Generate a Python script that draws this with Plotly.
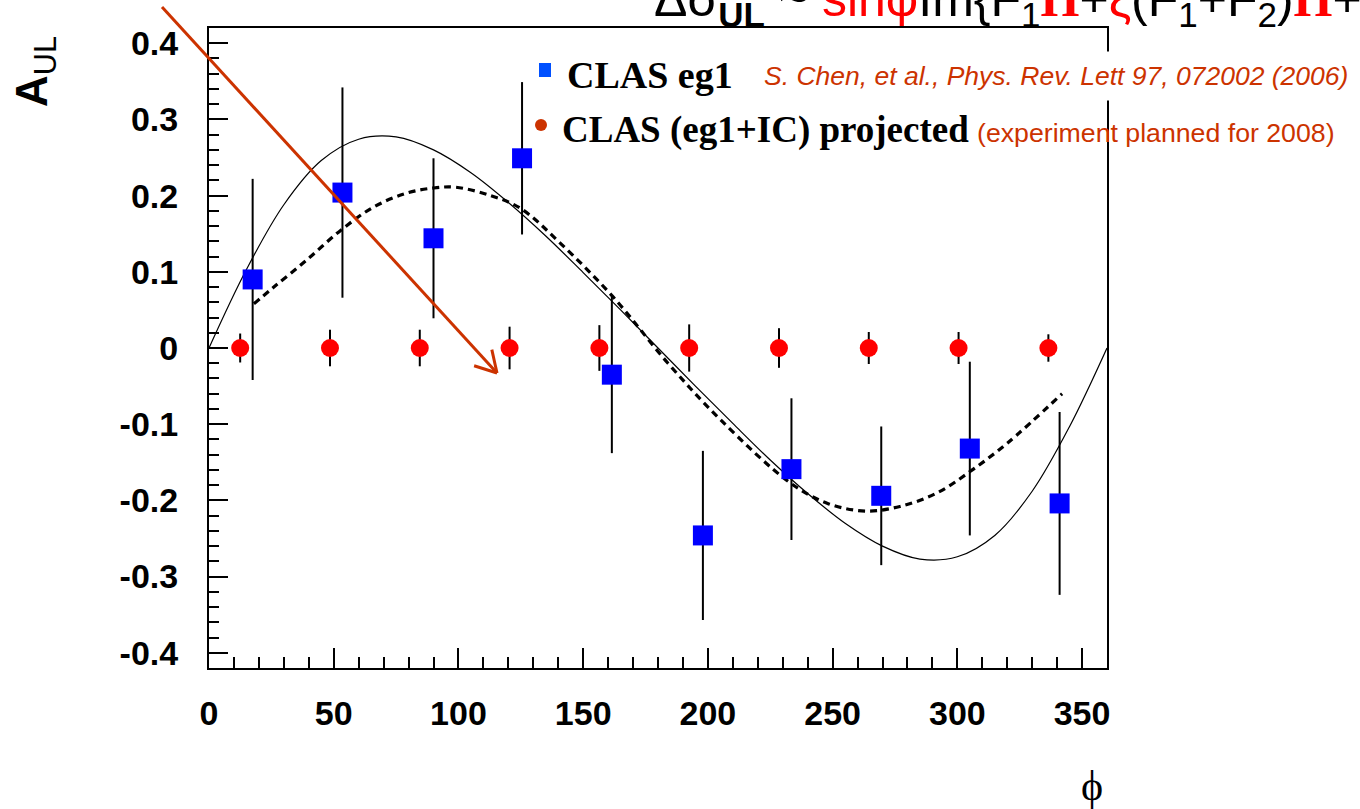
import math
import plotly.graph_objects as go

# CLAS eg1 measured target-spin asymmetry A_UL vs phi
phi_eg1 = [17.5, 53.5, 90.0, 125.5, 161.5, 198.0, 233.5, 269.5, 305.0, 341.0]
a_eg1 = [0.090, 0.204, 0.144, 0.249, -0.035, -0.246, -0.159, -0.194, -0.132, -0.204]
err_eg1 = [0.132, 0.138, 0.105, 0.100, 0.103, 0.111, 0.093, 0.091, 0.114, 0.120]

# projected eg1+IC points (all at zero with expected errors)
phi_proj = [12.5, 48.5, 84.5, 120.5, 156.5, 192.5, 228.5, 264.5, 300.5, 336.5]
a_proj = [0.0, 0.0, 0.0, 0.0, 0.0, 0.0, 0.0, 0.0, 0.0, 0.0]
err_proj = [0.019, 0.024, 0.024, 0.028, 0.030, 0.031, 0.026, 0.021, 0.021, 0.018]

# fit to the eg1 data (thin solid curve)
phi_fit = [0, 15, 30, 45, 60, 75, 90, 105, 120, 135, 150, 165, 180,
           195, 210, 225, 240, 255, 270, 285, 300, 315, 330, 345, 360]
a_fit = [0.000, 0.103, 0.188, 0.246, 0.274, 0.277, 0.260, 0.230, 0.191, 0.147, 0.099, 0.050, 0.000,
         -0.050, -0.099, -0.147, -0.191, -0.230, -0.260, -0.277, -0.274, -0.246, -0.188, -0.103, 0.000]

# model prediction (thick dashed curve)
phi_model = [18, 26, 39, 53, 66, 79, 90, 99, 113, 125, 141, 162, 184,
             205, 233, 248, 263, 277, 292, 306, 320, 342]
a_model = [0.058, 0.080, 0.115, 0.155, 0.185, 0.203, 0.210, 0.211, 0.200, 0.183, 0.137, 0.067, -0.020,
           -0.094, -0.177, -0.204, -0.214, -0.208, -0.190, -0.160, -0.125, -0.060]

x_ticks = [0, 50, 100, 150, 200, 250, 300, 350]
x_ticklabels = ["0", "50", "100", "150", "200", "250", "300", "350"]
y_ticks = [0.4, 0.3, 0.2, 0.1, 0.0, -0.1, -0.2, -0.3, -0.4]
y_ticklabels = ["0.4", "0.3", "0.2", "0.1", "0", "-0.1", "-0.2", "-0.3", "-0.4"]

W, H = 1360, 809
ML, MR, MT, MB = 209, 253, 28, 141
PW, PH = W - ML - MR, H - MT - MB

SANS = "Liberation Sans"
SERIF = "Liberation Serif"
ORANGE = "#CC3300"
RED = "#FF0000"


def px(xp):
    return (xp - ML) / PW


def py(yp):
    return (H - MB - yp) / PH


fig = go.Figure()

fig.add_trace(go.Scatter(
    x=phi_fit, y=a_fit, mode="lines",
    line=dict(color="black", width=1.2, shape="spline"),
    hoverinfo="skip"))

fig.add_trace(go.Scatter(
    x=phi_model, y=a_model, mode="lines",
    line=dict(color="black", width=3.2, dash="7px,5px", shape="spline"),
    hoverinfo="skip"))

fig.add_trace(go.Scatter(
    x=phi_proj, y=a_proj, mode="markers",
    marker=dict(symbol="circle", size=18, color=RED),
    error_y=dict(type="data", array=err_proj, color="black", thickness=2, width=0)))

fig.add_trace(go.Scatter(
    x=phi_eg1, y=a_eg1, mode="markers",
    marker=dict(symbol="square", size=20, color="#0000FF"),
    error_y=dict(type="data", array=err_eg1, color="black", thickness=2, width=0)))

tick_font = dict(family=SANS, size=34, color="black", weight="bold")

fig.update_xaxes(
    range=[0, 360], showgrid=False, zeroline=False,
    showline=True, mirror=True, linecolor="black", linewidth=2,
    ticks="inside", ticklen=20, tickwidth=2, tickcolor="black",
    tickvals=x_ticks, ticktext=x_ticklabels,
    tickfont=tick_font, ticklabelstandoff=14,
    minor=dict(dtick=10, tick0=0, ticks="inside", ticklen=11, tickwidth=2,
               tickcolor="black", showgrid=False))

fig.update_yaxes(
    range=[-0.42, 0.42], showgrid=False, zeroline=False,
    showline=True, mirror=True, linecolor="black", linewidth=2,
    ticks="inside", ticklen=19, tickwidth=2, tickcolor="black",
    tickvals=y_ticks, ticktext=y_ticklabels,
    tickfont=tick_font, ticklabelstandoff=22,
    minor=dict(dtick=0.02, tick0=0, ticks="inside", ticklen=10, tickwidth=2,
               tickcolor="black", showgrid=False))

annotations = []

# axis titles
annotations.append(dict(
    text="<b>A</b><sub>UL</sub>", x=px(35), y=py(72), xref="paper", yref="paper",
    xanchor="center", yanchor="middle", textangle=-90, showarrow=False,
    font=dict(family=SANS, size=44, color="black")))
annotations.append(dict(
    text="ϕ", x=px(1092), y=py(786), xref="paper", yref="paper",
    xanchor="center", yanchor="middle", showarrow=False,
    font=dict(family=SERIF, size=42, color="black")))

# legend entries
annotations.append(dict(
    text="<b>CLAS eg1</b>", x=px(565), y=py(75), xref="paper", yref="paper",
    xanchor="left", yanchor="middle", showarrow=False,
    font=dict(family=SERIF, size=38, color="black")))
annotations.append(dict(
    text="<i>S. Chen, et al., Phys. Rev. Lett 97, 072002 (2006)</i>",
    x=px(754), y=py(76), xref="paper", yref="paper",
    xanchor="left", yanchor="middle", showarrow=False, bgcolor="white", borderpad=9,
    font=dict(family=SANS, size=26.5, color=ORANGE)))
annotations.append(dict(
    text="<b>CLAS (eg1+IC) projected</b>", x=px(560), y=py(130), xref="paper", yref="paper",
    xanchor="left", yanchor="middle", showarrow=False,
    font=dict(family=SERIF, size=37, color="black")))
annotations.append(dict(
    text="(experiment planned for 2008)", x=px(975), y=py(133), xref="paper", yref="paper",
    xanchor="left", yanchor="middle", showarrow=False,
    font=dict(family=SANS, size=26.7, color=ORANGE)))

# formula running off the top edge
HCAL = f"<span style='color:{RED};font-family:{SERIF}'><b>H</b></span>"
formula = (
    "Δσ<sub><b>UL</b></sub> ~ "
    f"<span style='color:{RED}'>sinφ</span>Im{{F<sub>1</sub>{HCAL}+"
    f"<span style='color:{RED}'>ξ</span>(F<sub>1</sub>+F<sub>2</sub>){HCAL}+"
    f"<span style='color:{RED}'>...</span>"
)
annotations.append(dict(
    text=formula, x=px(652), y=py(36), xref="paper", yref="paper",
    xanchor="left", yanchor="bottom", showarrow=False,
    font=dict(family=SANS, size=50, color="black")))

# arrow drawn as a shaft plus two arms
tail = (162, 7)
tip = (497, 373)
arm_len, arm_ang = 24, math.radians(30)
ux, uy = tail[0] - tip[0], tail[1] - tip[1]
n = math.hypot(ux, uy)
ux, uy = ux / n, uy / n
shapes = [dict(type="line", xref="paper", yref="paper",
               x0=px(tail[0]), y0=py(tail[1]), x1=px(tip[0]), y1=py(tip[1]),
               line=dict(color=ORANGE, width=3))]
for s in (1, -1):
    c, sn = math.cos(arm_ang), s * math.sin(arm_ang)
    ax = tip[0] + arm_len * (ux * c - uy * sn)
    ay = tip[1] + arm_len * (ux * sn + uy * c)
    shapes.append(dict(type="line", xref="paper", yref="paper",
                       x0=px(tip[0]), y0=py(tip[1]), x1=px(ax), y1=py(ay),
                       line=dict(color=ORANGE, width=3)))

# legend markers
shapes.append(dict(type="rect", xref="paper", yref="paper",
                   x0=px(539), x1=px(551), y0=py(63), y1=py(77),
                   fillcolor="#0050FF", line=dict(width=0)))
shapes.append(dict(type="circle", xref="paper", yref="paper",
                   x0=px(535), x1=px(547), y0=py(119), y1=py(131),
                   fillcolor=ORANGE, line=dict(width=0)))

fig.update_layout(
    width=W, height=H,
    margin=dict(l=ML, r=MR, t=MT, b=MB),
    paper_bgcolor="white", plot_bgcolor="white",
    showlegend=False,
    annotations=annotations, shapes=shapes)

fig.write_html("out.html")
